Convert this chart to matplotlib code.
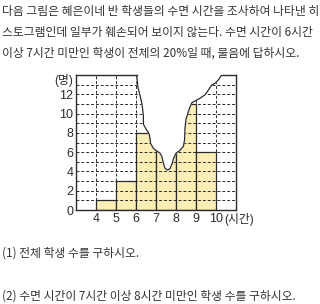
import matplotlib
matplotlib.use('Agg')
import matplotlib.pyplot as plt

# histogram data (hours -> number of students)
bin_edges = [3, 4, 5, 6, 7, 8, 9, 10, 11]
counts = [0, 1, 3, 8, 11, 11, 6, 0]
x_ticks = [4, 5, 6, 7, 8, 9, 10]
y_ticks = [0, 2, 4, 6, 8, 10, 12]

# outline of the torn-off part of the page
tear_x = [6.03, 6.1, 6.2, 6.3, 6.37, 6.37, 6.5, 6.6, 6.67, 6.73, 6.87, 7.03, 7.2, 7.3,
          7.37, 7.45, 7.57, 7.7, 7.8, 7.88, 8.0, 8.2, 8.37, 8.43, 8.45, 8.5, 8.6, 8.7,
          8.8, 8.98, 9.2, 9.45, 9.62, 9.78, 9.95, 10.12, 10.28]
tear_y = [14, 12.7, 11.9, 11.0, 9.8, 8.9, 8.4, 8.1, 7.8, 6.9, 6.4, 6.15, 5.9, 5.5,
          4.85, 4.35, 4.15, 4.3, 4.8, 5.35, 5.9, 6.2, 6.6, 7.3, 8.5, 9.4, 10.1, 10.7,
          11.15, 11.35, 11.6, 11.95, 12.45, 12.95, 13.15, 13.5, 14]

intro = ["다음 그림은 혜은이네 반 학생들의 수면 시간을 조사하여 나타낸 히",
         "스토그램인데 일부가 훼손되어 보이지 않는다. 수면 시간이 6시간",
         "이상 7시간 미만인 학생이 전체의 20%일 때, 물음에 답하시오."]
questions = ["(1) 전체 학생 수를 구하시오.",
             "(2) 수면 시간이 7시간 이상 8시간 미만인 학생 수를 구하시오."]

kr = ['Noto Sans CJK KR', 'DejaVu Sans']
num = ['Liberation Sans', 'Noto Sans CJK KR']
ink = '#2b2b2b'

fig = plt.figure(figsize=(3.2, 3.04), dpi=100)
ax = fig.add_axes([0.2375, 0.309, 0.5, 0.444])

left = [e for e, c in zip(bin_edges[:-1], counts) if c > 0]
heights = [c for c in counts if c > 0]
ax.bar(left, heights, width=1, align='edge', color='#FDEEB6',
       edgecolor=ink, linewidth=0.9, zorder=2)

for y in range(1, 14):
    ax.axhline(y, color=ink, lw=0.7, ls=(0, (3, 2)), zorder=3)
for x in x_ticks:
    ax.axvline(x, color=ink, lw=0.7, ls=(0, (3, 2)), zorder=3)

ax.fill(tear_x + [tear_x[-1], tear_x[0]], tear_y + [14.5, 14.5],
        color='white', zorder=4, clip_on=False)
ax.plot(tear_x, tear_y, color=ink, lw=0.9, zorder=5)
ax.plot([bin_edges[0], tear_x[0]], [14, 14], color=ink, lw=1, zorder=5, clip_on=False)
ax.plot([tear_x[-1], bin_edges[-1]], [14, 14], color=ink, lw=1, zorder=5, clip_on=False)

ax.set_xlim(bin_edges[0], bin_edges[-1])
ax.set_ylim(0, 14)
ax.spines['top'].set_visible(False)
for s in ['left', 'bottom', 'right']:
    ax.spines[s].set_color(ink)
    ax.spines[s].set_linewidth(1)
    ax.spines[s].set_zorder(6)
ax.set_xticks(x_ticks)
ax.set_yticks(y_ticks)
ax.tick_params(length=0, labelsize=9, colors=ink, pad=2)
for lab in ax.get_xticklabels() + ax.get_yticklabels():
    lab.set_family(num)
ax.text(-0.02, 13.4, '(명)', transform=ax.get_yaxis_transform(), ha='right', va='center',
        fontsize=8.5, family=num, color=ink)
ax.text(10.4, -0.02, '(시간)', transform=ax.get_xaxis_transform(), ha='left', va='top',
        fontsize=8.5, family=num, color=ink)

for i, line in enumerate(intro):
    fig.text(0.006, 1 - (11 + 21 * i) / 304, line, fontsize=8.5, family=kr,
             color='#333333', va='center')
fig.text(0.006, 1 - 253 / 304, questions[0], fontsize=8.5, family=kr, color='#333333', va='center')
fig.text(0.006, 1 - 296 / 304, questions[1], fontsize=8.5, family=kr, color='#333333', va='center')

fig.savefig('out.png', dpi=100)
